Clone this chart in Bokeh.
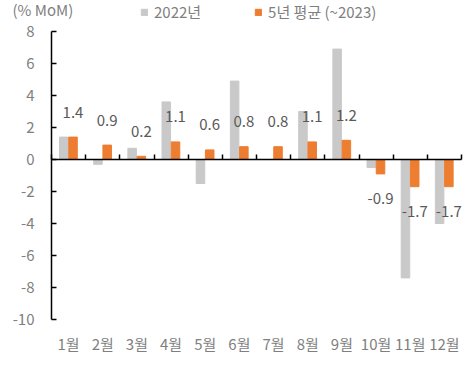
from bokeh.plotting import figure
from bokeh.models import (Range1d, FixedTicker, LinearAxis, Label, Legend, LegendItem,
                          ColumnDataSource)
from bokeh.core.properties import value
from bokeh.embed import file_html
from bokeh.resources import INLINE

months = ["1월", "2월", "3월", "4월", "5월", "6월", "7월", "8월", "9월", "10월", "11월", "12월"]
y2022 = [1.4, -0.3, 0.7, 3.6, -1.5, 4.9, 0.0, 3.0, 6.9, -0.5, -7.4, -4.0]
avg5y = [1.4, 0.9, 0.2, 1.1, 0.6, 0.8, 0.8, 1.1, 1.2, -0.9, -1.7, -1.7]
y_ticks = [-10, -8, -6, -4, -2, 0, 2, 4, 6, 8]

FONT = "Noto Sans CJK KR"
GREY = "#C9C9C9"
ORANGE = "#ED7D31"
TICK_GREY = "#7F7F7F"

idx = list(range(len(months)))
centers = [i + 0.5 for i in idx]
x_grey = [c - 0.14 for c in centers]
x_orange = [c + 0.13 for c in centers]

src = ColumnDataSource(dict(
    xg=x_grey, xo=x_orange, g=y2022, o=avg5y,
    lbl=[f"{v:.1f}" for v in avg5y],
    yoff=[-25 if v >= 0 else 25 for v in avg5y],
))
tick_src = ColumnDataSource(dict(x=[0] * len(y_ticks), y=y_ticks, t=[str(t) for t in y_ticks]))

UNIT = 410 / 12
p = figure(width=474, height=378, output_backend="svg", toolbar_location=None,
           x_range=Range1d(-51 / UNIT, 12 + 13 / UNIT),
           y_range=Range1d(-10 - 10 / 16, 8 + 31 / 16),
           y_axis_location=None,
           min_border_left=0, min_border_right=0, min_border_top=0, min_border_bottom=49)
p.outline_line_color = None
p.grid.visible = False
p.background_fill_color = "white"

rg = p.vbar(x="xg", top="g", bottom=0, width=0.25, color=GREY, source=src)
ro = p.vbar(x="xo", top="o", bottom=0, width=0.25, color=ORANGE, source=src)

p.text(x="xo", y="o", text="lbl", y_offset="yoff", source=src,
       text_align="center", text_baseline="middle",
       text_font=value(FONT), text_font_size="15px", text_color="#595959")

# y axis at x = 0 (labels drawn with the tick values)
ya = LinearAxis(fixed_location=0, ticker=FixedTicker(ticks=y_ticks), bounds=(-10, 8))
ya.major_label_overrides = {t: "" for t in y_ticks}
ya.axis_line_color = "black"
ya.axis_line_width = 1.5
ya.major_tick_line_color = "black"
ya.major_tick_line_width = 1.5
ya.major_tick_in = 5
ya.major_tick_out = 0
ya.minor_tick_line_color = None
ya.major_label_standoff = 0
p.add_layout(ya, "left")

p.text(x="x", y="y", text="t", source=tick_src, x_offset=-17,
       text_align="right", text_baseline="middle",
       text_font=value(FONT), text_font_size="15px", text_color=TICK_GREY)

# month labels axis at bottom
xa = p.xaxis[0]
xa.ticker = FixedTicker(ticks=centers)
xa.major_label_overrides = {c: m for c, m in zip(centers, months)}
xa.axis_line_color = None
xa.major_tick_line_color = None
xa.minor_tick_line_color = None
xa.major_tick_out = 0
xa.major_tick_in = 0
xa.major_label_standoff = 3
xa.major_label_text_font = FONT
xa.major_label_text_font_size = "15px"
xa.major_label_text_color = TICK_GREY

# zero axis with boundary ticks
za = LinearAxis(fixed_location=0, ticker=FixedTicker(ticks=list(range(13))), bounds=(0, 12))
za.major_label_overrides = {i: "" for i in range(13)}
za.axis_line_color = "black"
za.axis_line_width = 1.5
za.major_tick_line_color = "black"
za.major_tick_line_width = 1.5
za.major_tick_in = 5
za.major_tick_out = 0
za.minor_tick_line_color = None
za.major_label_standoff = 0
p.add_layout(za, "below")

# unit label
p.add_layout(Label(x=-1.14, y=9.4, text="(% MoM)", text_align="left", text_baseline="middle",
                   text_font=FONT, text_font_size="15px", text_color=TICK_GREY))

legend = Legend(items=[LegendItem(label="2022년", renderers=[rg]),
                       LegendItem(label="5년 평균 (~2023)", renderers=[ro])],
                orientation="horizontal", location=(140, 307),
                glyph_width=8, glyph_height=8, label_standoff=6, spacing=53,
                padding=0, margin=0, border_line_color=None, background_fill_alpha=0,
                label_text_font=FONT, label_text_font_size="15px", label_text_color=TICK_GREY,
                label_height=20)
p.add_layout(legend, "center")

open("out.html", "w").write(file_html(p, INLINE))
